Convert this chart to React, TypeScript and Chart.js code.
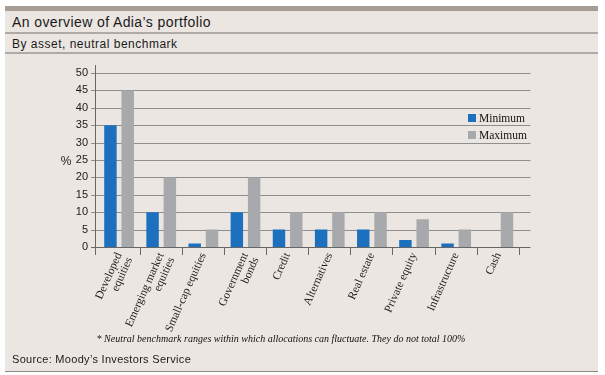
import React, { useEffect, useRef } from "react";
import { Chart, registerables } from "chart.js";

Chart.register(...registerables);

const categories: (string | string[])[] = [
  ["Developed", "equities"],
  ["Emerging market", "equities"],
  "Small-cap equities",
  ["Government", "bonds"],
  "Credit",
  "Alternatives",
  "Real estate",
  "Private equity",
  "Infrastructure",
  "Cash",
];
const minimumValues = [35, 10, 1, 10, 5, 5, 5, 2, 1, 0];
const maximumValues = [45, 20, 5, 20, 10, 10, 10, 8, 5, 10];
const seriesNames = ["Minimum", "Maximum"];
const yMin = 0;
const yMax = 50;
const yStep = 5;

const BLUE = "#1c70bd";
const GRAY = "#a8a9ad";
const BG = "#ebe6e2";

const gridPlugin = {
  id: "customGrid",
  beforeDatasetsDraw(chart: any) {
    const { ctx, chartArea, scales } = chart;
    const y = scales.y;
    const axisX = Math.round(chartArea.left) - 3;
    ctx.save();
    ctx.lineWidth = 1;
    y.ticks.forEach((t: any) => {
      const py = Math.round(y.getPixelForValue(t.value)) + 0.5;
      ctx.strokeStyle = t.value === 0 ? "#666" : "#8e8e8e";
      ctx.beginPath();
      ctx.moveTo(axisX - 4, py);
      ctx.lineTo(chartArea.right + 11, py);
      ctx.stroke();
    });
    ctx.strokeStyle = "#666";
    ctx.beginPath();
    ctx.moveTo(axisX + 0.5, chartArea.top - 8);
    ctx.lineTo(axisX + 0.5, chartArea.bottom + 8);
    ctx.stroke();
    // "%" axis label
    ctx.fillStyle = "#222";
    ctx.font = "12px 'Liberation Sans', Arial, sans-serif";
    ctx.textAlign = "center";
    ctx.textBaseline = "middle";
    ctx.fillText("%", axisX - 29, y.getPixelForValue((yMin + yMax) / 2) + 2);
    ctx.restore();
  },
  afterDraw(chart: any) {
    const { ctx, chartArea } = chart;
    ctx.save();
    ctx.font = "11.5px 'Liberation Serif', 'Times New Roman', serif";
    ctx.textAlign = "left";
    ctx.textBaseline = "middle";
    chart.data.datasets.forEach((ds: any, i: number) => {
      const x = Math.round(chartArea.right) - 51;
      const yy = chartArea.top + 41 + i * 17;
      ctx.fillStyle = ds.backgroundColor;
      ctx.fillRect(x, yy, 8, 8);
      ctx.fillStyle = "#111";
      ctx.fillText(ds.label, x + 11, yy + 4.5);
    });
    ctx.restore();
  },
};

function ChartCanvas() {
  const ref = useRef<HTMLCanvasElement | null>(null);
  useEffect(() => {
    if (!ref.current) return;
    const chart = new Chart(ref.current, {
      type: "bar",
      data: {
        labels: categories,
        datasets: [
          {
            label: seriesNames[0],
            data: minimumValues,
            backgroundColor: BLUE,
            categoryPercentage: 0.82,
            barPercentage: 0.72,
          },
          {
            label: seriesNames[1],
            data: maximumValues,
            backgroundColor: GRAY,
            categoryPercentage: 0.82,
            barPercentage: 0.72,
          },
        ],
      },
      options: {
        responsive: false,
        animation: false,
        events: [],
        layout: { padding: { left: 0, top: 73, right: 85.6, bottom: 0 } },
        plugins: { legend: { display: false }, tooltip: { enabled: false }, title: { display: false } },
        scales: {
          x: {
            offset: true,
            afterFit: (s: any) => {
              s.height = 128;
            },
            grid: {
              display: true,
              offset: true,
              drawOnChartArea: false,
              drawTicks: true,
              tickLength: 8,
              color: (c: any) =>
                c.index === 0 || c.index >= categories.length ? "rgba(0,0,0,0)" : "#666",
            },
            border: { display: false },
            ticks: {
              autoSkip: false,
              maxRotation: 66,
              minRotation: 66,
              padding: -4,
              color: "#1a1a1a",
              font: { family: "'Liberation Serif', 'Times New Roman', serif", size: 11.5, lineHeight: 1.0 },
            },
          },
          y: {
            min: yMin,
            max: yMax,
            afterFit: (s: any) => {
              s.width = 98;
            },
            grid: { display: false, drawTicks: false },
            border: { display: false },
            ticks: {
              stepSize: yStep,
              padding: 10,
              color: "#1a1a1a",
              font: { family: "'Liberation Sans', Arial, sans-serif", size: 11 },
            },
          },
        },
      },
      plugins: [gridPlugin],
    });
    return () => chart.destroy();
  }, []);
  return (
    <canvas
      ref={ref}
      width={605}
      height={375}
      style={{ position: "absolute", left: 0, top: 0, width: 605, height: 375 }}
    />
  );
}

export default function App() {
  const sans = "'Liberation Sans', Arial, Helvetica, sans-serif";
  const serif = "'Liberation Serif', 'Times New Roman', serif";
  return (
    <div
      style={{
        position: "fixed",
        left: 0,
        top: 0,
        width: 605,
        height: 375,
        background: "#fff",
        overflow: "hidden",
      }}
    >
      <div style={{ position: "absolute", left: 5, top: 6, width: 593, height: 366, background: BG }} />
      <div style={{ position: "absolute", left: 5, top: 6, width: 593, height: 5, background: "#a89d94" }} />
      <div
        style={{
          position: "absolute",
          left: 12,
          top: 15,
          fontFamily: sans,
          fontSize: 14,
          lineHeight: "14px",
          letterSpacing: 0.4,
          color: "#1a1a1a",
          whiteSpace: "nowrap",
        }}
      >
        An overview of Adia’s portfolio
      </div>
      <div style={{ position: "absolute", left: 5, top: 32, width: 593, height: 2, background: "#aeaaa7" }} />
      <div
        style={{
          position: "absolute",
          left: 12,
          top: 38,
          fontFamily: sans,
          fontSize: 12,
          lineHeight: "12px",
          letterSpacing: 0.5,
          color: "#1a1a1a",
          whiteSpace: "nowrap",
        }}
      >
        By asset, neutral benchmark
      </div>
      <div style={{ position: "absolute", left: 5, top: 52, width: 593, height: 2, background: "#aeaaa7" }} />
      <ChartCanvas />
      <div
        style={{
          position: "absolute",
          left: 0,
          width: 562,
          top: 334,
          textAlign: "center",
          fontFamily: serif,
          fontStyle: "italic",
          fontSize: 10,
          lineHeight: "10px",
          color: "#111",
          whiteSpace: "nowrap",
        }}
      >
        * Neutral benchmark ranges within which allocations can fluctuate. They do not total 100%
      </div>
      <div
        style={{
          position: "absolute",
          left: 12,
          top: 354,
          fontFamily: sans,
          fontSize: 11,
          lineHeight: "11px",
          letterSpacing: 0.3,
          color: "#1a1a1a",
          whiteSpace: "nowrap",
        }}
      >
        Source: Moody’s Investors Service
      </div>
      <div style={{ position: "absolute", left: 5, top: 371, width: 593, height: 1, background: "#8d8884" }} />
    </div>
  );
}
